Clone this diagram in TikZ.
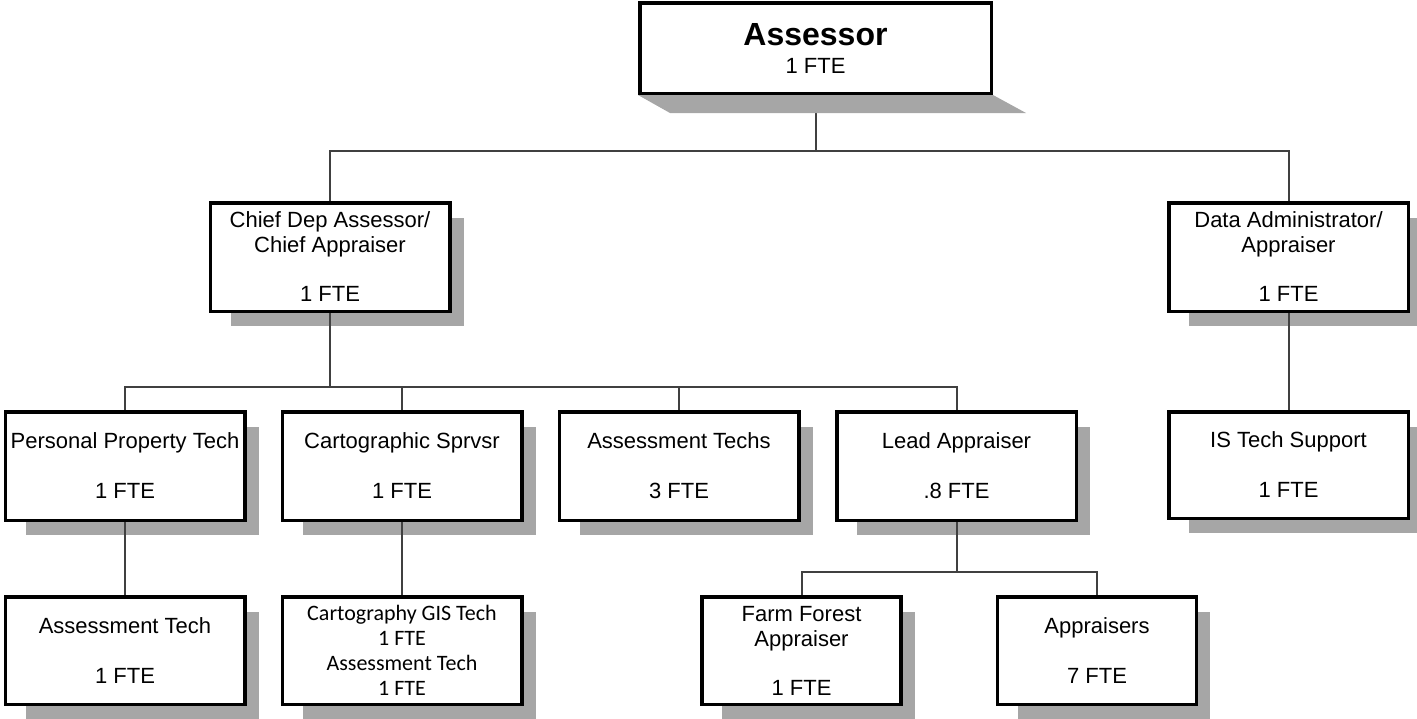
\documentclass[tikz,border=0pt]{standalone}
\usepackage{fontspec}
\setmainfont{Liberation Sans}
\newfontfamily\calib{Carlito}
\usetikzlibrary{calc,backgrounds}
\definecolor{shadowc}{HTML}{A6A6A6}
\definecolor{linec}{HTML}{404040}
\begin{document}
\begin{tikzpicture}[x=1pt,y=-1pt,
  box/.style={draw=black, line width=3.5pt, fill=white, inner sep=0pt,
    minimum width=239.5pt, minimum height=108.5pt, align=center,
    font=\fontsize{22}{25}\selectfont},
  narrowbox/.style={box, minimum width=199pt},
  conn/.style={draw=linec, line width=2pt}]
\useasboundingbox (0,0) rectangle (1417,718);

% nodes
\node[box, minimum width=351.5pt, minimum height=90.5pt] (ass) at (815.5,48)
  {{\fontsize{32}{34}\selectfont\bfseries Assessor}\\[3pt]1 FTE};
\node[box] (chief) at (330,257) {Chief Dep Assessor/\\Chief Appraiser\\[24pt]1 FTE};
\node[box] (data) at (1288.5,257) {Data Administrator/\\Appraiser\\[24pt]1 FTE};
\node[box] (pers) at (125,466) {Personal Property Tech\\[25pt]1 FTE};
\node[box] (carto) at (402,466) {Cartographic Sprvsr\\[25pt]1 FTE};
\node[box] (atechs) at (679,466) {Assessment Techs\\[25pt]3 FTE};
\node[box] (lead) at (956.5,466) {Lead Appraiser\\[25pt].8 FTE};
\node[box, minimum height=106.5pt] (istech) at (1288.5,465) {IS Tech Support\\[25pt]1 FTE};
\node[box, minimum height=107.5pt] (atech) at (125,650.5) {Assessment Tech\\[25pt]1 FTE};
\node[box, minimum height=107.5pt, font=\calib\fontsize{22}{25}\selectfont] (gis) at (402,650.5)
  {Cartography GIS Tech\\1 FTE\\Assessment Tech\\1 FTE};
\node[narrowbox, minimum height=107.5pt] (farm) at (801.5,650.5) {Farm Forest\\Appraiser\\[24pt]1 FTE};
\node[narrowbox, minimum height=107.5pt] (appr) at (1097,650.5) {Appraisers\\[25pt]7 FTE};

% shadows
\begin{pgfonlayer}{background}
\foreach \n in {chief,data,pers,carto,atechs,lead,istech,atech,gis,farm,appr}
  \fill[shadowc] ($(\n.north west)+(22,17)$) rectangle ($(\n.south east)+(12,13)$);
\end{pgfonlayer}

% connectors
\coordinate (y1) at (0,151);
\coordinate (y2) at (0,387);
\coordinate (y3) at (0,572);
\draw[conn] (ass.south) -- (ass.south |- y1) -| (chief.north);
\draw[conn] (ass.south |- y1) -| (data.north);
\draw[conn] (chief.south) -- (chief.south |- y2) -| (pers.north);
\draw[conn] (chief.south |- y2) -| (carto.north);
\draw[conn] (chief.south |- y2) -| (atechs.north);
\draw[conn] (chief.south |- y2) -| (lead.north);
\draw[conn] (pers.south) -- (atech.north);
\draw[conn] (carto.south) -- (gis.north);
\draw[conn] (data.south) -- (istech.north);
\draw[conn] (lead.south) -- (lead.south |- y3) -| (farm.north);
\draw[conn] (lead.south |- y3) -| (appr.north);

% Assessor bottom shadow face
\fill[shadowc] (ass.south west) -- (ass.south east) -- ($(ass.south east)+(33,18)$)
  -- ($(ass.south west)+(32,18)$) -- cycle;
\end{tikzpicture}
\end{document}
